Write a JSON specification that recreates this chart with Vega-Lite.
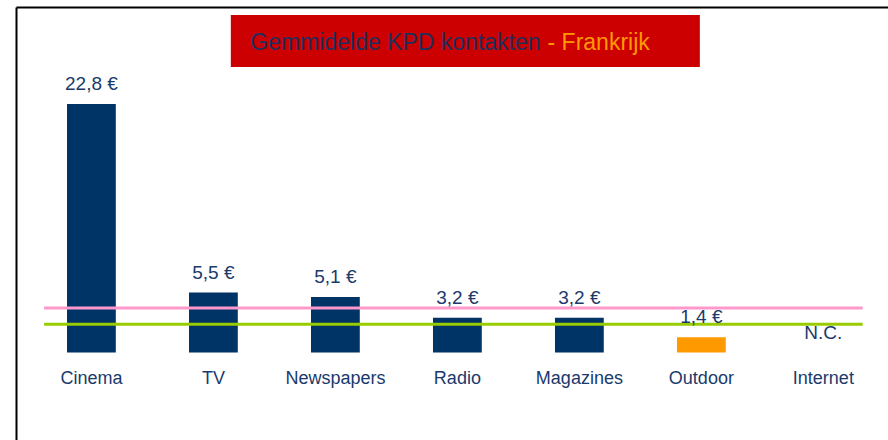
{
  "$schema": "https://vega.github.io/schema/vega-lite/v6.json",
  "width": 872,
  "height": 433,
  "autosize": {"type": "none"},
  "padding": {"left": 16, "top": 7, "right": 0, "bottom": 0},
  "background": "white",
  "config": {
    "view": {"stroke": null},
    "axis": {"labels": false, "ticks": false, "grid": false, "domainColor": "#000000", "domainWidth": 2}
  },
  "datasets": {
    "media": [
      {"medium": "Cinema", "value": 22.8, "label": "22,8 €"},
      {"medium": "TV", "value": 5.5, "label": "5,5 €"},
      {"medium": "Newspapers", "value": 5.1, "label": "5,1 €"},
      {"medium": "Radio", "value": 3.2, "label": "3,2 €"},
      {"medium": "Magazines", "value": 3.2, "label": "3,2 €"},
      {"medium": "Outdoor", "value": 1.4, "label": "1,4 €"},
      {"medium": "Internet", "value": 0, "label": "N.C."}
    ],
    "refs": [
      {"ref": "ref1", "value": 4.1},
      {"ref": "ref2", "value": 2.6}
    ]
  },
  "layer": [
    {
      "data": {"name": "media"},
      "mark": {"type": "bar"},
      "encoding": {
        "x": {
          "field": "medium", "type": "nominal", "sort": null,
          "scale": {"type": "band", "paddingInner": 0.6, "paddingOuter": 0.374, "align": 0.559},
          "axis": {"orient": "top", "title": null}
        },
        "y": {
          "field": "value", "type": "quantitative",
          "scale": {"domain": [-8.02, 31.7], "nice": false, "zero": false},
          "axis": {"orient": "left", "title": null}
        },
        "color": {
          "condition": {"test": "datum.medium === 'Outdoor'", "value": "#ff9900"},
          "value": "#003366"
        }
      }
    },
    {
      "data": {"name": "refs"},
      "mark": {"type": "rule", "strokeWidth": 3},
      "encoding": {
        "x": {"datum": "Cinema", "bandPosition": -0.469},
        "x2": {"datum": "Internet", "bandPosition": 1.306},
        "y": {"field": "value", "type": "quantitative"},
        "color": {
          "field": "ref", "type": "nominal",
          "scale": {"domain": ["ref1", "ref2"], "range": ["#ff99cc", "#99cc00"]},
          "legend": null
        }
      }
    },
    {
      "data": {"name": "media"},
      "mark": {"type": "text", "font": "Liberation Sans", "fontSize": 19, "color": "#1a3a6b", "baseline": "alphabetic", "align": "center", "dy": -14},
      "encoding": {
        "x": {"field": "medium", "type": "nominal", "sort": null},
        "y": {"field": "value", "type": "quantitative"},
        "text": {"field": "label"}
      }
    },
    {
      "data": {"name": "media"},
      "mark": {"type": "text", "font": "Liberation Sans", "fontSize": 18, "color": "#1a3a6b", "baseline": "alphabetic", "align": "center", "dy": 31.5},
      "encoding": {
        "x": {"field": "medium", "type": "nominal", "sort": null},
        "y": {"datum": 0},
        "text": {"field": "medium"}
      }
    },
    {
      "data": {"values": [{"title": "Gemmidelde KPD kontakten - Frankrijk"}]},
      "mark": {"type": "rect", "color": "#cc0000"},
      "encoding": {
        "x": {"datum": "TV", "bandPosition": 0.857},
        "x2": {"datum": "Outdoor", "bandPosition": 0.469},
        "y": {"datum": 30.96},
        "y2": {"datum": 26.19}
      }
    },
    {
      "data": {"values": [{"part": "Gemmidelde KPD kontakten"}]},
      "mark": {"type": "text", "font": "Liberation Sans", "fontSize": 23, "color": "#1f2f5c", "baseline": "alphabetic", "align": "right", "dx": -3.5},
      "encoding": {
        "x": {"datum": "Radio", "bandPosition": 2.276},
        "y": {"datum": 27.75},
        "text": {"field": "part"}
      }
    },
    {
      "data": {"values": [{"part": "- Frankrijk"}]},
      "mark": {"type": "text", "font": "Liberation Sans", "fontSize": 23, "color": "#ff9900", "baseline": "alphabetic", "align": "left", "dx": 3.5},
      "encoding": {
        "x": {"datum": "Radio", "bandPosition": 2.276},
        "y": {"datum": 27.75},
        "text": {"field": "part"}
      }
    }
  ]
}
